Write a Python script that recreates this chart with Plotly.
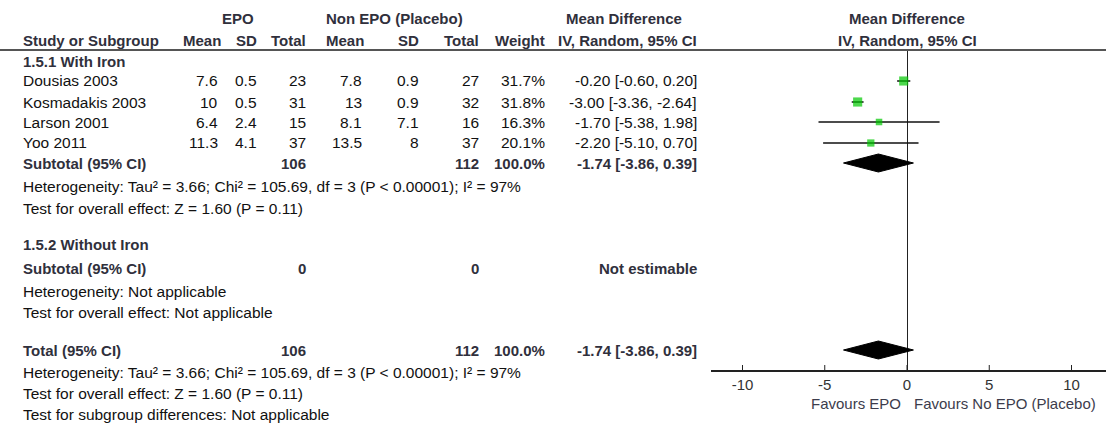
import plotly.graph_objects as go

W, H = 1106, 425

# ---------------- data ----------------
studies = ["Dousias 2003", "Kosmadakis 2003", "Larson 2001", "Yoo 2011"]
epo_mean = [7.6, 10, 6.4, 11.3]
epo_sd = [0.5, 0.5, 2.4, 4.1]
epo_n = [23, 31, 15, 37]
pl_mean = [7.8, 13, 8.1, 13.5]
pl_sd = [0.9, 0.9, 7.1, 8]
pl_n = [27, 32, 16, 37]
weight = [31.7, 31.8, 16.3, 20.1]
md = [-0.20, -3.00, -1.70, -2.20]
md_lo = [-0.60, -3.36, -5.38, -5.10]
md_hi = [0.20, -2.64, 1.98, 0.70]

sub_epo_n, sub_pl_n, sub_weight = 106, 112, 100.0
pooled_md, pooled_lo, pooled_hi = -1.74, -3.86, 0.39

het_text = "Heterogeneity: Tau² = 3.66; Chi² = 105.69, df = 3 (P < 0.00001); I² = 97%"
overall_text = "Test for overall effect: Z = 1.60 (P = 0.11)"
tick_vals = [-10, -5, 0, 5, 10]

# ---------------- layout helpers (pixel positions) ----------------
FONT = "Liberation Sans, Arial, sans-serif"
REG = 15.5
BLD = 15
C_REG = "#111111"
C_BLD = "#30303c"

row_px = {
    "h1": 19, "h2": 40, "g1": 61,
    "s0": 81, "s1": 102, "s2": 122, "s3": 143,
    "sub1": 163, "het1": 187, "ov1": 209,
    "g2": 245, "sub2": 268, "het2": 291, "ov2": 312,
    "tot": 350, "het3": 372, "ov3": 393, "sg": 414,
}
col_px = {"name": 22, "em": 219, "es": 258, "en": 307, "pm": 363, "ps": 420,
          "pn": 480, "w": 546, "ci": 698}

def fx(p):
    return p / W

def fy(p):
    return 1 - p / H

ann = []

def txt(x, y, s, anchor="left", bold=False, color=None, size=None):
    ann.append(dict(
        x=fx(x), y=fy(y), xref="paper", yref="paper", text=(f"<b>{s}</b>" if bold else s),
        showarrow=False, xanchor=anchor, yanchor="middle",
        font=dict(family=FONT, size=size or (BLD if bold else REG),
                  color=color or (C_BLD if bold else C_REG)),
        borderpad=0,
    ))

def fmt_ci(m, l, h):
    return f"{m:.2f} [{l:.2f}, {h:.2f}]"

# headers
txt(238, row_px["h1"], "EPO", "center", True)
txt(394, row_px["h1"], "Non EPO (Placebo)", "center", True)
txt(624, row_px["h1"], "Mean Difference", "center", True)
txt(907, row_px["h1"], "Mean Difference", "center", True)
txt(col_px["name"], row_px["h2"], "Study or Subgroup", "left", True)
txt(col_px["em"] + 3, row_px["h2"], "Mean", "right", True)
txt(col_px["es"], row_px["h2"], "SD", "right", True)
txt(col_px["en"], row_px["h2"], "Total", "right", True)
txt(col_px["pm"] + 2, row_px["h2"], "Mean", "right", True)
txt(col_px["ps"], row_px["h2"], "SD", "right", True)
txt(col_px["pn"], row_px["h2"], "Total", "right", True)
txt(col_px["w"], row_px["h2"], "Weight", "right", True)
txt(col_px["ci"], row_px["h2"], "IV, Random, 95% CI", "right", True)
txt(907, row_px["h2"], "IV, Random, 95% CI", "center", True)

# group 1
txt(col_px["name"], row_px["g1"], "1.5.1 With Iron", "left", True)
rows = ["s0", "s1", "s2", "s3"]
for i, r in enumerate(rows):
    y = row_px[r]
    txt(col_px["name"], y, studies[i])
    txt(col_px["em"], y, f"{epo_mean[i]:g}", "right")
    txt(col_px["es"], y, f"{epo_sd[i]:g}", "right")
    txt(col_px["en"], y, f"{epo_n[i]:g}", "right")
    txt(col_px["pm"], y, f"{pl_mean[i]:g}", "right")
    txt(col_px["ps"], y, f"{pl_sd[i]:g}", "right")
    txt(col_px["pn"], y, f"{pl_n[i]:g}", "right")
    txt(col_px["w"], y, f"{weight[i]:.1f}%", "right")
    txt(col_px["ci"], y, fmt_ci(md[i], md_lo[i], md_hi[i]), "right")

for key, label in (("sub1", "Subtotal (95% CI)"), ("tot", "Total (95% CI)")):
    y = row_px[key]
    txt(col_px["name"], y, label, "left", True)
    txt(col_px["en"], y, f"{sub_epo_n}", "right", True)
    txt(col_px["pn"], y, f"{sub_pl_n}", "right", True)
    txt(col_px["w"], y, f"{sub_weight:.1f}%", "right", True)
    txt(col_px["ci"], y, fmt_ci(pooled_md, pooled_lo, pooled_hi), "right", True)

txt(col_px["name"], row_px["het1"], het_text)
txt(col_px["name"], row_px["ov1"], overall_text)

# group 2
txt(col_px["name"], row_px["g2"], "1.5.2 Without Iron", "left", True)
txt(col_px["name"], row_px["sub2"], "Subtotal (95% CI)", "left", True)
txt(col_px["en"], row_px["sub2"], "0", "right", True)
txt(col_px["pn"], row_px["sub2"], "0", "right", True)
txt(col_px["ci"], row_px["sub2"], "Not estimable", "right", True)
txt(col_px["name"], row_px["het2"], "Heterogeneity: Not applicable")
txt(col_px["name"], row_px["ov2"], "Test for overall effect: Not applicable")

# total footers
txt(col_px["name"], row_px["het3"], het_text)
txt(col_px["name"], row_px["ov3"], overall_text)
txt(col_px["name"], row_px["sg"], "Test for subgroup differences: Not applicable")

# favours labels
txt(902, 403, "Favours EPO", "right", False, "#3c3c4c", 15)
txt(913, 403, "Favours No EPO (Placebo)", "left", False, "#3c3c4c", 15)

# ---------------- forest plot ----------------
AX_L, AX_R = 711, 1106
ZERO_PX, PX_PER_UNIT = 907, 16.45
x_range = [(AX_L - ZERO_PX) / PX_PER_UNIT, (AX_R - ZERO_PX) / PX_PER_UNIT]
Y_TOP, Y_BOT = 50, 370

fig = go.Figure()

study_y = [row_px[r] for r in rows]
sizes = [1.62 * (w ** 0.5) for w in weight]
fig.add_trace(go.Scatter(
    x=md, y=study_y, mode="markers",
    marker=dict(symbol="square", color="#00c800", size=sizes, line=dict(width=0)),
    error_x=dict(type="data", symmetric=False,
                 array=[h - m for h, m in zip(md_hi, md)],
                 arrayminus=[m - l for m, l in zip(md, md_lo)],
                 color="#111111", thickness=1.5, width=0),
    hoverinfo="skip", showlegend=False,
))

half_h = 9
for key in ("sub1", "tot"):
    yc = row_px[key]
    fig.add_trace(go.Scatter(
        x=[pooled_lo, pooled_md, pooled_hi, pooled_md, pooled_lo],
        y=[yc, yc - half_h, yc, yc + half_h, yc],
        mode="lines", fill="toself", fillcolor="#000000",
        line=dict(color="#000000", width=1), hoverinfo="skip", showlegend=False,
    ))

# crossing tick marks
for tv in tick_vals:
    fig.add_shape(type="line", xref="x", yref="y", x0=tv, x1=tv, y0=Y_BOT + 5, y1=Y_BOT - 5,
                  line=dict(color="#222222", width=1))

# header rule
fig.add_shape(type="line", xref="paper", yref="paper", x0=0, x1=1, y0=fy(50), y1=fy(50),
              line=dict(color="#555555", width=2))

fig.update_layout(
    width=W, height=H, margin=dict(l=0, r=0, t=0, b=0),
    paper_bgcolor="white", plot_bgcolor="white",
    annotations=ann, showlegend=False,
    xaxis=dict(domain=[AX_L / W, AX_R / W], range=x_range, showgrid=False,
               zeroline=True, zerolinecolor="#222222", zerolinewidth=1,
               showline=True, linecolor="#222222", linewidth=1.5,
               ticks="", tickvals=tick_vals, ticktext=[str(v) for v in tick_vals],
               tickfont=dict(family=FONT, size=15, color="#333333"), fixedrange=True),
    yaxis=dict(domain=[fy(Y_BOT), fy(Y_TOP)], range=[Y_BOT, Y_TOP], visible=False,
               fixedrange=True),
)

fig.write_html("out.html", config={"displayModeBar": False},
               post_script="document.body.style.margin='0';document.body.style.overflow='hidden';")
